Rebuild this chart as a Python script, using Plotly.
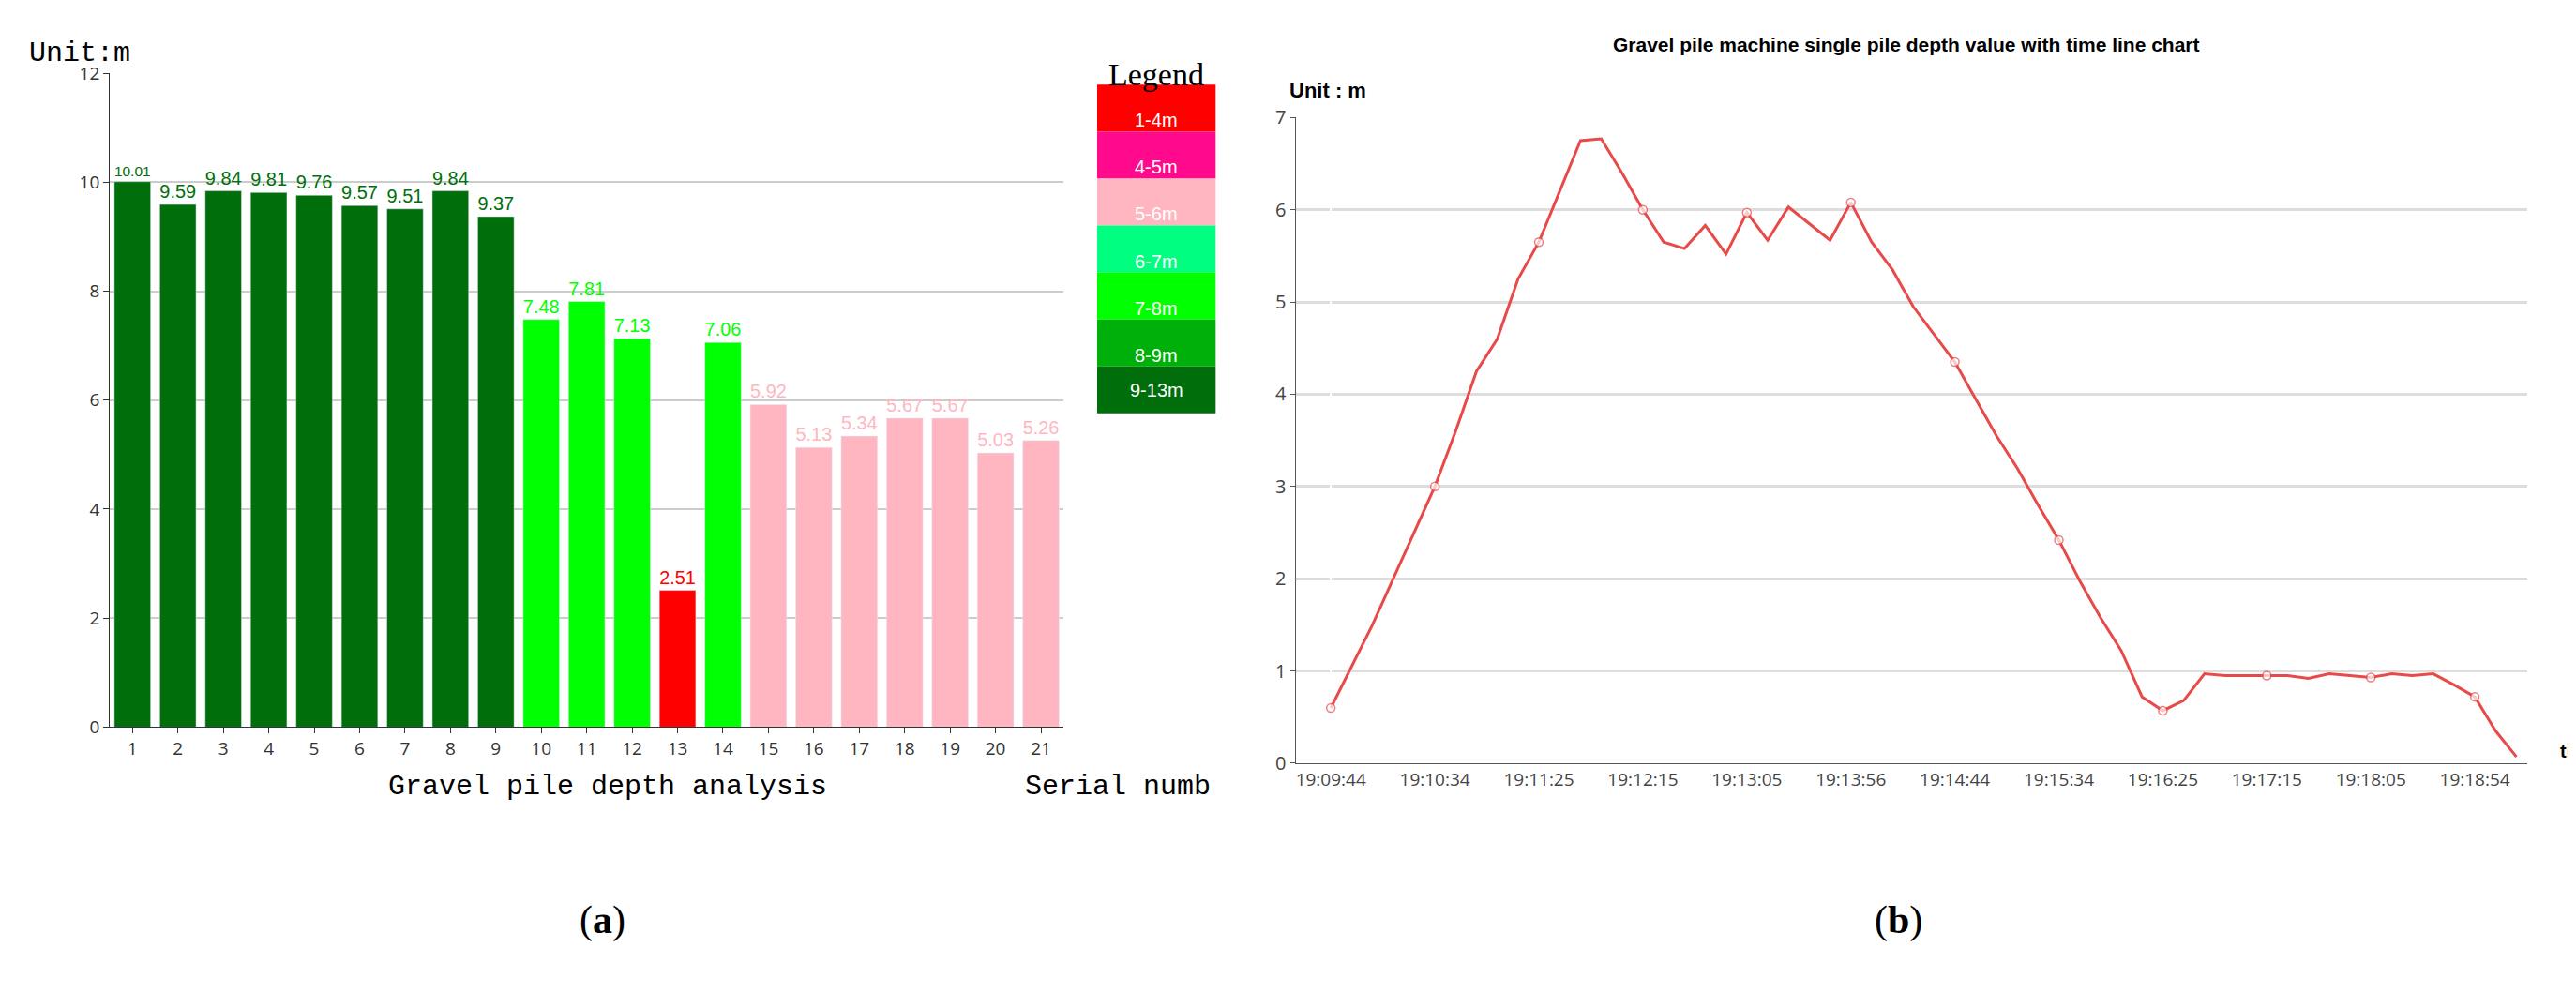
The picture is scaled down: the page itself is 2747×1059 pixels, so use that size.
import plotly.graph_objects as go

serial = list(range(1, 22))
depth = [10.01, 9.59, 9.84, 9.81, 9.76, 9.57, 9.51, 9.84, 9.37, 7.48, 7.81, 7.13, 2.51, 7.06,
         5.92, 5.13, 5.34, 5.67, 5.67, 5.03, 5.26]
legend_labels = ["1-4m", "4-5m", "5-6m", "6-7m", "7-8m", "8-9m", "9-13m"]
legend_colors = ["#ff0000", "#ff0a8c", "#ffb6c1", "#00ff80", "#00ff00", "#00b00a", "#006e0a"]

line_vals = [0.6, 1.05, 1.5, 2.0, 2.5, 3.0, 3.6, 4.25, 4.6, 5.25, 5.65, 6.2, 6.75, 6.77, 6.4, 6.0,
             5.65, 5.58, 5.83, 5.52, 5.97, 5.67, 6.03, 5.85, 5.67, 6.08, 5.65, 5.35, 4.95, 4.65,
             4.35, 3.95, 3.55, 3.2, 2.8, 2.42, 1.98, 1.58, 1.22, 0.72, 0.57, 0.68, 0.97, 0.95,
             0.95, 0.95, 0.95, 0.92, 0.97, 0.95, 0.93, 0.97, 0.95, 0.97, 0.85, 0.72, 0.35, 0.07]
time_labels = ["19:09:44", "19:10:34", "19:11:25", "19:12:15", "19:13:05", "19:13:56",
               "19:14:44", "19:15:34", "19:16:25", "19:17:15", "19:18:05", "19:18:54"]


def color_for(v):
    if v < 4: return legend_colors[0]
    if v < 5: return legend_colors[1]
    if v < 6: return legend_colors[2]
    if v < 7: return legend_colors[3]
    if v < 8: return legend_colors[4]
    if v < 9: return legend_colors[5]
    return legend_colors[6]


cols = [color_for(v) for v in depth]
idx = list(range(len(line_vals)))
tick_idx = idx[::5][:len(time_labels)]
marker_sizes = [9 if i in tick_idx else 0 for i in idx]


def py(p):
    # convert target pixel row (601-high view) to paper y
    return 1 - ((p - 13) / 0.98) / 601


fig = go.Figure()
fig.add_trace(go.Bar(x=serial, y=depth, marker_color=cols, width=0.8,
                     text=[f"{v:.2f}" for v in depth], textposition="outside",
                     textfont=dict(color=cols, size=20, family="Liberation Sans Narrow, Arial Narrow, Liberation Sans"),
                     cliponaxis=False, xaxis="x", yaxis="y", showlegend=False))
fig.add_trace(go.Scatter(x=idx, y=line_vals, mode="lines+markers",
                         line=dict(color="#e84a4a", width=3),
                         marker=dict(size=marker_sizes, color="white", line=dict(color="#e84a4a", width=1.5)),
                         xaxis="x2", yaxis="y2", showlegend=False))

fig.update_layout(
    width=2747, height=1059, paper_bgcolor="white", plot_bgcolor="white",
    margin=dict(l=0, r=0, t=0, b=0), bargap=0.2,
    xaxis=dict(domain=[0.0397, 0.410], range=[0.5, 21.5], tickvals=serial, ticks="outside",
               ticklen=6, tickcolor="#333", tickfont=dict(size=19, color="#333"),
               showline=True, linecolor="#333", showgrid=False, anchor="y"),
    yaxis=dict(domain=[py(443), py(45)], range=[0, 12], dtick=2, ticks="outside", ticklen=6,
               tickcolor="#333", tickfont=dict(size=19, color="#333"), showline=True,
               linecolor="#333", gridcolor="#cccccc", gridwidth=2, zeroline=False, anchor="x"),
    xaxis2=dict(domain=[0.500, 0.978], range=[-1.7, 57.5], tickvals=tick_idx, ticktext=time_labels,
                tickfont=dict(size=19, color="#444"), showline=True, linecolor="#555",
                showgrid=False, ticks="", anchor="y2"),
    yaxis2=dict(domain=[py(465), py(72)], range=[0, 7], dtick=1, tickfont=dict(size=20, color="#444"),
                showline=True, linecolor="#555", gridcolor="#dddddd", gridwidth=3,
                ticks="outside", ticklen=5, tickcolor="#555", zeroline=False, anchor="x2"),
)

n = len(legend_labels)
top, bot = py(52), py(252)
h = (top - bot) / n
for i, (lab, c) in enumerate(zip(legend_labels, legend_colors)):
    y1 = top - i * h
    fig.add_shape(type="rect", xref="paper", yref="paper", x0=0.423, x1=0.469, y0=y1 - h, y1=y1,
                  fillcolor=c, line=dict(width=0))
    fig.add_annotation(x=0.446, y=y1 - h / 2, xref="paper", yref="paper", text=lab, showarrow=False,
                       font=dict(size=20, color="white", family="Liberation Sans Narrow, Liberation Sans"))

serif = "Liberation Mono, DejaVu Sans Mono"
ann = [
    dict(x=0.0077, y=py(22), text="Unit:m", font=dict(size=30, family=serif), xanchor="left"),
    dict(x=0.446, y=py(34), text="Legend", font=dict(size=34, family="Liberation Serif")),
    dict(x=0.233, y=py(490), text="Gravel pile depth analysis", font=dict(size=30, family=serif)),
    dict(x=0.431, y=py(490), text="Serial numb", font=dict(size=30, family=serif)),
    dict(x=0.231, y=py(575), text="(<b>a</b>)", font=dict(size=42, family="Liberation Serif")),
    dict(x=0.734, y=py(575), text="(<b>b</b>)", font=dict(size=42, family="Liberation Serif")),
    dict(x=0.737, y=py(20), text="<b>Gravel pile machine single pile depth value with time line chart</b>",
         font=dict(size=21, family="Liberation Sans Narrow, Liberation Sans")),
    dict(x=0.497, y=py(47), text="<b>Unit : m</b>", font=dict(size=22, family="Liberation Sans"),
         xanchor="left"),
    dict(x=0.990, y=py(465), text="<b>ti</b>", font=dict(size=20, family="Liberation Sans"),
         xanchor="left"),
]
for a in ann:
    a.setdefault("xanchor", "center")
    a["font"].setdefault("color", "black")
    fig.add_annotation(xref="paper", yref="paper", showarrow=False, **a)

fig.write_html("out.html")
